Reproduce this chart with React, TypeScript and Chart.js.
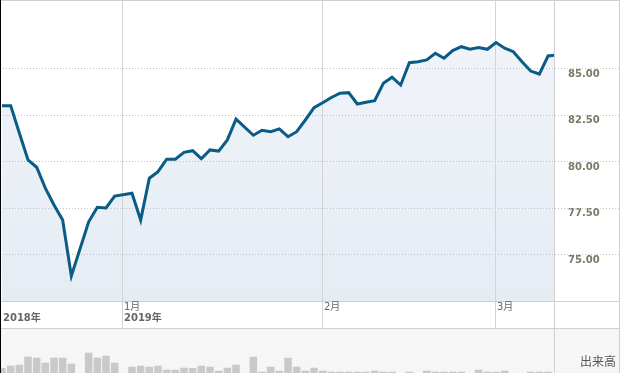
import React, { useEffect, useRef } from "react";
import { Chart, registerables } from "chart.js";

Chart.register(...registerables);

// One slot per weekday, 2018-12-12 .. 2019-03-12 (null = market closed)
const closes: (number | null)[] = [
  82.99, 82.99, 81.52, 80.07, 79.68, 78.56, 77.65, 76.84, 73.83, null,
  76.75, 77.53, 77.49, 78.13, null, 78.28, 76.84, 79.09, 79.44, 80.11,
  80.11, 80.48, 80.57, 80.14, 80.61, 80.55, 81.15, 82.27, null, 81.4,
  81.67, 81.59, 81.74, 81.32, 81.59, 82.22, 82.88, 83.15, 83.43, 83.66,
  83.69, 83.08, 83.17, 83.26, 84.19, 84.52, 84.1, 85.3, 85.35, 85.45,
  85.81, 85.54, 85.95, 86.16, 86.02, 86.11, 86.02, 86.38, 86.08, 85.89,
  85.35, 84.85, 84.69, 85.66, 85.72,
];

const volumes: (number | null)[] = [
  5, 7.3, 8.3, 16.3, 15.3, 10.3, 15.3, 15.3, 9.3, null,
  20.3, 15.3, 17.3, 10.3, null, 6.3, 7.3, 6.3, 7.3, 3.3,
  3.3, 5.3, 5, 7.3, 6.3, 2.3, 5.3, 8.3, null, 16.3,
  1.3, 6.3, 2.3, 15.3, 6.3, 2.3, 5.3, 2.3, 1.3, 1.3,
  1.3, 1.3, 1.3, 2.3, 1.3, 1.3, 0, 1.3, 0, 2.3,
  1.3, 1.3, 1.3, 1.3, 0, 3.3, 1.3, 1.3, 2.3, 0,
  0, 1.3, 1.3, 1.3, 0,
];

const yTicks = [75, 77.5, 80, 82.5, 85];
const monthTickSlots = [14, 37, 57];
const monthTickLabels = ["1月", "2月", "3月"];
const yearTickSlots = [-0.2308, 14];
const yearTickLabels = ["2018年", "2019年"];
const volumeLabel = "出来高";

const X_MIN = -0.2308;
const X_MAX = 63.69;
const Y_MIN = 72.49;
const Y_MAX = 88.67;

const W = 620;
const H1 = 329;
const H2 = 44;
const RIGHT_W = 66;

const LATIN = '"DejaVu Sans", "Noto Sans CJK JP", sans-serif';

export default function App() {
  const priceRef = useRef<HTMLCanvasElement | null>(null);
  const volRef = useRef<HTMLCanvasElement | null>(null);

  useEffect(() => {
    const priceData = closes.map((v, i) => ({ x: i, y: v }));
    const volData = volumes.map((v, i) => ({ x: i, y: v }));

    const pricePlugin = {
      id: "priceDecor",
      beforeDatasetsDraw(chart: any) {
        const ctx = chart.ctx;
        const ys = chart.scales.y;
        const xs = chart.scales.x;
        ctx.save();
        ctx.lineWidth = 1;
        ctx.strokeStyle = "#c2c2c2";
        ctx.setLineDash([1, 2]);
        yTicks.forEach((v) => {
          const y = Math.round(ys.getPixelForValue(v)) + 0.5;
          ctx.beginPath();
          ctx.moveTo(0, y);
          ctx.lineTo(W, y);
          ctx.stroke();
        });
        ctx.setLineDash([]);
        ctx.strokeStyle = "#d4d4d4";
        monthTickSlots.forEach((s) => {
          const x = Math.round(xs.getPixelForValue(s)) - 0.5;
          ctx.beginPath();
          ctx.moveTo(x, 0);
          ctx.lineTo(x, H1);
          ctx.stroke();
        });
        ctx.restore();
      },
      afterDraw(chart: any) {
        const ctx = chart.ctx;
        const xs = chart.scales.x;
        const area = chart.chartArea;
        ctx.save();
        ctx.lineWidth = 1;
        ctx.strokeStyle = "#d0d0d0";
        const hline = (y: number) => {
          ctx.beginPath();
          ctx.moveTo(0, y);
          ctx.lineTo(W, y);
          ctx.stroke();
        };
        hline(0.5);
        hline(Math.round(area.bottom) + 0.5);
        hline(H1 - 0.5);
        ctx.beginPath();
        ctx.moveTo(Math.round(area.right) + 0.5, 0);
        ctx.lineTo(Math.round(area.right) + 0.5, H1);
        ctx.moveTo(W - 0.5, 0);
        ctx.lineTo(W - 0.5, H1);
        ctx.stroke();
        ctx.strokeStyle = "#000";
        ctx.beginPath();
        ctx.moveTo(0.5, 0);
        ctx.lineTo(0.5, H1);
        ctx.stroke();

        ctx.fillStyle = "#666";
        ctx.textBaseline = "alphabetic";
        ctx.textAlign = "left";
        ctx.font = `10px ${LATIN}`;
        monthTickSlots.forEach((s, i) => {
          const x = Math.round(xs.getPixelForValue(s)) + 1;
          ctx.fillText(monthTickLabels[i], x, area.bottom + 9);
        });
        ctx.font = `bold 10px ${LATIN}`;
        yearTickSlots.forEach((s, i) => {
          const x = Math.max(3, Math.round(xs.getPixelForValue(s)) + 1);
          ctx.fillText(yearTickLabels[i], x, area.bottom + 20);
        });
        ctx.restore();
      },
    };

    const volPlugin = {
      id: "volDecor",
      beforeDraw(chart: any) {
        const ctx = chart.ctx;
        ctx.save();
        ctx.fillStyle = "#f6f6f6";
        ctx.fillRect(0, 0, W, H2);
        ctx.restore();
      },
      afterDraw(chart: any) {
        const ctx = chart.ctx;
        const area = chart.chartArea;
        ctx.save();
        ctx.lineWidth = 1;
        ctx.strokeStyle = "#d0d0d0";
        ctx.beginPath();
        ctx.moveTo(Math.round(area.right) + 0.5, 0);
        ctx.lineTo(Math.round(area.right) + 0.5, H2);
        ctx.moveTo(W - 0.5, 0);
        ctx.lineTo(W - 0.5, H2);
        ctx.stroke();
        ctx.strokeStyle = "#000";
        ctx.beginPath();
        ctx.moveTo(0.5, 0);
        ctx.lineTo(0.5, H2);
        ctx.stroke();
        ctx.fillStyle = "#555";
        ctx.font = '12px "Noto Sans CJK JP", sans-serif';
        ctx.textAlign = "left";
        ctx.textBaseline = "middle";
        ctx.fillText(volumeLabel, 580, 32);
        ctx.restore();
      },
    };

    const priceChart = new Chart(priceRef.current as HTMLCanvasElement, {
      type: "line",
      data: {
        datasets: [
          {
            data: priceData as any,
            borderColor: "rgb(8,92,134)",
            borderWidth: 3,
            pointRadius: 0,
            tension: 0,
            spanGaps: true,
            fill: "start",
            backgroundColor: (c: any) => {
              const a = c.chart.chartArea;
              if (!a) return "rgba(230,237,245,1)";
              const g = c.chart.ctx.createLinearGradient(0, a.top, 0, a.bottom);
              g.addColorStop(0, "rgb(242,245,250)");
              g.addColorStop(1, "rgb(229,236,244)");
              return g;
            },
          },
        ],
      },
      options: {
        responsive: false,
        animation: false,
        events: [],
        layout: { padding: { left: 0, top: 0, right: 0, bottom: H1 - 301 } },
        plugins: {
          legend: { display: false },
          tooltip: { enabled: false },
          filler: { drawTime: "beforeDraw" } as any,
        },
        scales: {
          x: {
            type: "linear",
            min: X_MIN,
            max: X_MAX,
            display: false,
          },
          y: {
            position: "right",
            min: Y_MIN,
            max: Y_MAX,
            afterFit: (s: any) => {
              s.width = RIGHT_W;
              s.paddingTop = 0;
              s.paddingBottom = 0;
            },
            afterBuildTicks: (s: any) => {
              s.ticks = yTicks.map((v) => ({ value: v }));
            },
            grid: { display: false, drawTicks: false },
            border: { display: false },
            ticks: {
              autoSkip: false,
              padding: 14,
              labelOffset: 6,
              color: "#7a7866",
              font: { family: '"DejaVu Sans"', size: 10, weight: "bold" },
              callback: (v: any) => Number(v).toFixed(2),
            },
          },
        },
      },
      plugins: [pricePlugin],
    });

    const volChart = new Chart(volRef.current as HTMLCanvasElement, {
      type: "bar",
      data: {
        datasets: [
          {
            data: volData as any,
            backgroundColor: "#c9c9c9",
            barPercentage: 0.87,
            categoryPercentage: 1,
          },
        ],
      },
      options: {
        responsive: false,
        animation: false,
        events: [],
        layout: { padding: { left: 0, top: 0, right: RIGHT_W, bottom: 0 } },
        plugins: { legend: { display: false }, tooltip: { enabled: false } },
        scales: {
          x: { type: "linear", min: X_MIN, max: X_MAX, display: false, offset: false },
          y: { min: 0, max: H2, display: false },
        },
      },
      plugins: [volPlugin],
    });

    return () => {
      priceChart.destroy();
      volChart.destroy();
    };
  }, []);

  return (
    <div
      style={{
        position: "absolute",
        left: 0,
        top: 0,
        width: W,
        height: H1 + H2,
        background: "#fff",
        overflow: "hidden",
      }}
    >
      <canvas
        ref={priceRef}
        width={W}
        height={H1}
        style={{ position: "absolute", left: 0, top: 0, width: W, height: H1, display: "block" }}
      />
      <canvas
        ref={volRef}
        width={W}
        height={H2}
        style={{ position: "absolute", left: 0, top: H1, width: W, height: H2, display: "block" }}
      />
    </div>
  );
}
